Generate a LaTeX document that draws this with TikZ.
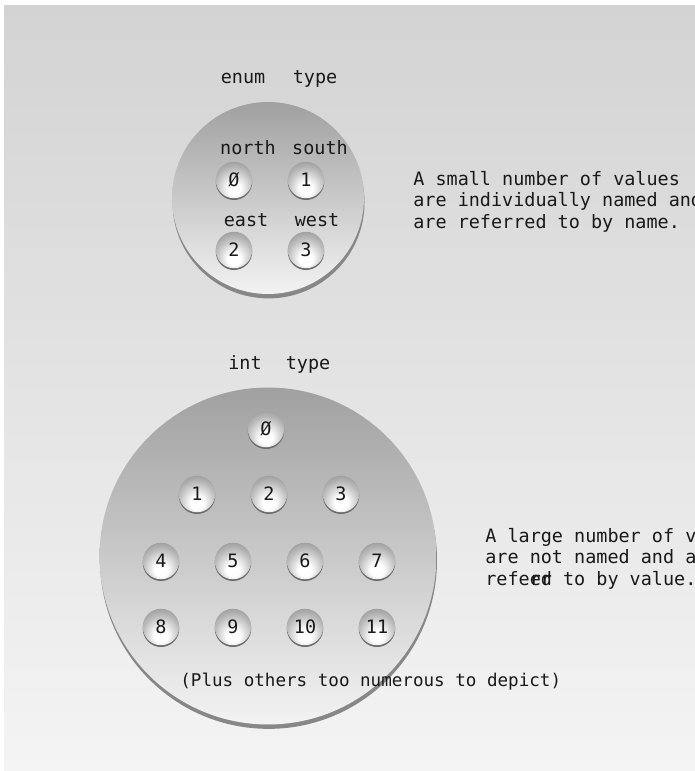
\documentclass[tikz,border=0pt]{standalone}
\usepackage{fontspec}
\setmonofont{DejaVu Sans Mono}
\usepackage{tikz}
\usetikzlibrary{shadows}
\usepackage{xcolor}

\definecolor{bgtop}{HTML}{D3D3D3}
\definecolor{bgbot}{HTML}{F4F4F4}
\definecolor{disctop}{HTML}{A0A0A0}
\definecolor{discbot}{HTML}{F3F3F3}
\definecolor{rimgray}{HTML}{878787}
\pgfdeclareradialshading{knob}{\pgfpoint{0bp}{-14bp}}{%
  color(0bp)=(white); color(9bp)=(white); color(26bp)=(black!28);
  color(46bp)=(black!55); color(70bp)=(black!62)}

\tikzset{
  lbl/.style={font=\ttfamily\fontsize{10.5}{12.2}\selectfont,inner sep=0pt,text=black!90},
  word/.style={lbl,anchor=base},
  note/.style={lbl,align=left,anchor=base west},
  disc/.style={circle,inner sep=0pt,outer sep=0pt,top color=disctop,bottom color=discbot,
    drop shadow={shadow xshift=0.3pt,shadow yshift=-2.5pt,fill=rimgray,opacity=1}},
  knob/.style={circle,inner sep=0pt,minimum size=0.73cm,shading=knob,lbl,
    drop shadow={shadow xshift=0pt,shadow yshift=-1pt,fill=black!58,opacity=1}}
}

\begin{document}
\begin{tikzpicture}[x=0.02cm,y=-0.02cm]
\useasboundingbox (0,0) rectangle (695,771);
\fill[white] (0,0) rectangle (695,771);
\shade[top color=bgtop,bottom color=bgbot] (4,5) rectangle (695,771);

% enum type
\node[word] (enumword) at (243,83) {enum};
\node[word] (enumtype) at (315,83) {type};
\node[disc,minimum size=3.84cm] (enumdisc) at (268,198) {};
\node[word] (lnorth) at (248,154) {north};
\node[word] (lsouth) at (320,154) {south};
\node[word] (least) at (246,226) {east};
\node[word] (lwest) at (317,226) {west};
\node[knob] (e0) at (234,180) {Ø};
\node[knob] (e1) at (306,180) {1};
\node[knob] (e2) at (234,250) {2};
\node[knob] (e3) at (306,250) {3};
\node[note] (enumnote) at (413,228) {A small number of values\\are individually named and\\are referred to by name.};

% int type
\node[word] (intword) at (245,369) {int};
\node[word] (inttype) at (308,369) {type};
\node[disc,minimum size=6.74cm] (intdisc) at (268,556) {};
\node[knob] (i0) at (266,429) {Ø};
\foreach \n/\x/\y in {1/197/494,2/269/494,3/341/494,
                      4/161/561,5/233/561,6/305/561,7/377/561,
                      8/161/627,9/233/627,10/305/627,11/377/627}
  \node[knob] (i\n) at (\x,\y) {\n};
\node[lbl,anchor=base west,font=\ttfamily\fontsize{10}{12}\selectfont] (plusnote) at (180,686)
  {(Plus others too numerous to depict)};
\node[note] (intnote) at (485,585) {A large number of values\\are not named and are\\refe\rlap{rr}ed to by value.};
\end{tikzpicture}
\end{document}
